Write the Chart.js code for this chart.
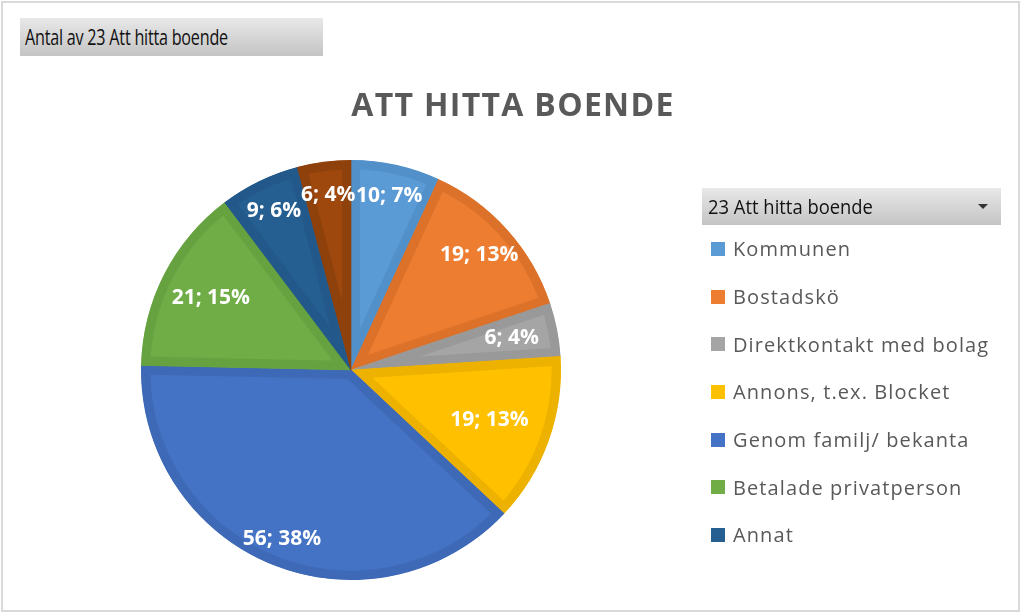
<!DOCTYPE html>
<html>
<head>
<meta charset="utf-8">
<script src="https://cdn.jsdelivr.net/npm/chart.js@4.4.1/dist/chart.umd.min.js"></script>
<style>
  html, body { margin:0; padding:0; background:#fff; }
  #wrap { position:relative; width:1024px; height:616px; overflow:hidden; }
  #frame { position:absolute; left:1px; top:1px; width:1019px; height:611px; border:2px solid #d9d9d9; box-sizing:border-box; }
  canvas#c { position:absolute; left:0; top:0; }
  .btn { position:absolute; background:linear-gradient(#e8e8e8,#c4c4c4); color:#111; font-family:"Open Sans", sans-serif; box-sizing:border-box; white-space:nowrap; }
  #fieldBtn { left:20px; top:18px; width:303px; height:38px; font-size:21px; line-height:38px; padding-left:5px; }
  #fieldBtn span { display:inline-block; transform:scaleX(0.77); transform-origin:0 50%; letter-spacing:-0.3px; }
  #legBtn { left:702px; top:188px; width:299px; height:37px; font-size:20px; line-height:37px; padding-left:6px; }
  #legBtn .txt { display:inline-block; transform:scaleX(0.92); transform-origin:0 50%; }
  #legBtn .arr { position:absolute; right:13px; top:16px; width:0; height:0; border-left:5px solid transparent; border-right:5px solid transparent; border-top:5px solid #333; }
  #title { position:absolute; left:0; width:1026px; top:82px; text-align:center; font-family:"Open Sans", sans-serif; font-weight:700; font-size:32px; letter-spacing:1.3px; color:#595959; }
  #legend { position:absolute; left:711px; top:225px; width:310px; height:333px; overflow:hidden; font-family:"Open Sans", sans-serif; font-size:20px; color:#595959; letter-spacing:1.1px; }
  .li { height:47.7px; display:flex; align-items:center; white-space:nowrap; }
  .sw { width:14px; height:14px; margin-right:8px; flex:none; }
</style>
</head>
<body>
<div id="wrap">
  <canvas id="c" width="1024" height="616"></canvas>
  <div id="frame"></div>
  <div id="fieldBtn" class="btn"><span>Antal av 23 Att hitta boende</span></div>
  <div id="title">ATT HITTA BOENDE</div>
  <div id="legBtn" class="btn"><span class="txt">23 Att hitta boende</span><span class="arr"></span></div>
  <div id="legend"></div>
</div>
<script>
const categories = ["Kommunen","Bostadskö","Direktkontakt med bolag","Annons, t.ex. Blocket","Genom familj/ bekanta","Betalade privatperson","Annat","(tom)"];
const counts = [10, 19, 6, 19, 56, 21, 9, 6];
const fillColors = ["#5B9BD5","#ED7D31","#A5A5A5","#FFC000","#4472C4","#70AD47","#255E91","#9E480E"];
const rimColors  = ["#5190C9","#DC7229","#999999","#EDB200","#3E69B6","#67A241","#22588A","#8F410C"];
const labelRadius = [0.85, 0.82, 0.78, 0.70, 0.87, 0.75, 0.84, 0.84];
const legendCount = 7;

const total = counts.reduce((a,b)=>a+b,0);
// percentages rounded so that they sum to 100 (largest remainder)
const raw = counts.map(v => v/total*100);
const pcts = raw.map(Math.floor);
let missing = 100 - pcts.reduce((a,b)=>a+b,0);
raw.map((r,i)=>[r-Math.floor(r), i]).sort((a,b)=>b[0]-a[0]).slice(0, missing).forEach(([_,i])=>pcts[i]++);

const leg = document.getElementById('legend');
categories.forEach((c,i)=>{
  const d = document.createElement('div'); d.className='li';
  d.innerHTML = '<span class="sw" style="background:'+fillColors[i]+'"></span><span>'+c+'</span>';
  if (i >= legendCount) d.style.visibility = 'hidden';
  leg.appendChild(d);
});

const labelPlugin = {
  id:'sliceLabels',
  afterDatasetsDraw(chart){
    const ctx = chart.ctx;
    const meta = chart.getDatasetMeta(0);
    ctx.save();
    ctx.font = 'bold 21px "Open Sans", sans-serif';
    ctx.fillStyle = '#fff';
    ctx.textAlign = 'center';
    ctx.textBaseline = 'middle';
    meta.data.forEach((arc,i)=>{
      const p = arc.getProps(['x','y','startAngle','endAngle','outerRadius'], true);
      const a = (p.startAngle + p.endAngle)/2;
      const r = p.outerRadius * labelRadius[i];
      ctx.fillText(counts[i] + '; ' + pcts[i] + '%', p.x + Math.cos(a)*r, p.y + Math.sin(a)*r);
    });
    ctx.restore();
  }
};

new Chart(document.getElementById('c'), {
  type:'pie',
  data:{
    labels: categories,
    datasets:[{
      data: counts,
      backgroundColor: fillColors,
      borderColor: rimColors,
      borderWidth: 9,
      borderAlign: 'inner'
    }]
  },
  options:{
    responsive:false,
    animation:false,
    layout:{ padding:{ left:141, right:463, top:160, bottom:36 } },
    plugins:{ legend:{ display:false }, tooltip:{ enabled:false }, title:{ display:false } }
  },
  plugins:[labelPlugin]
});
</script>
</body>
</html>
